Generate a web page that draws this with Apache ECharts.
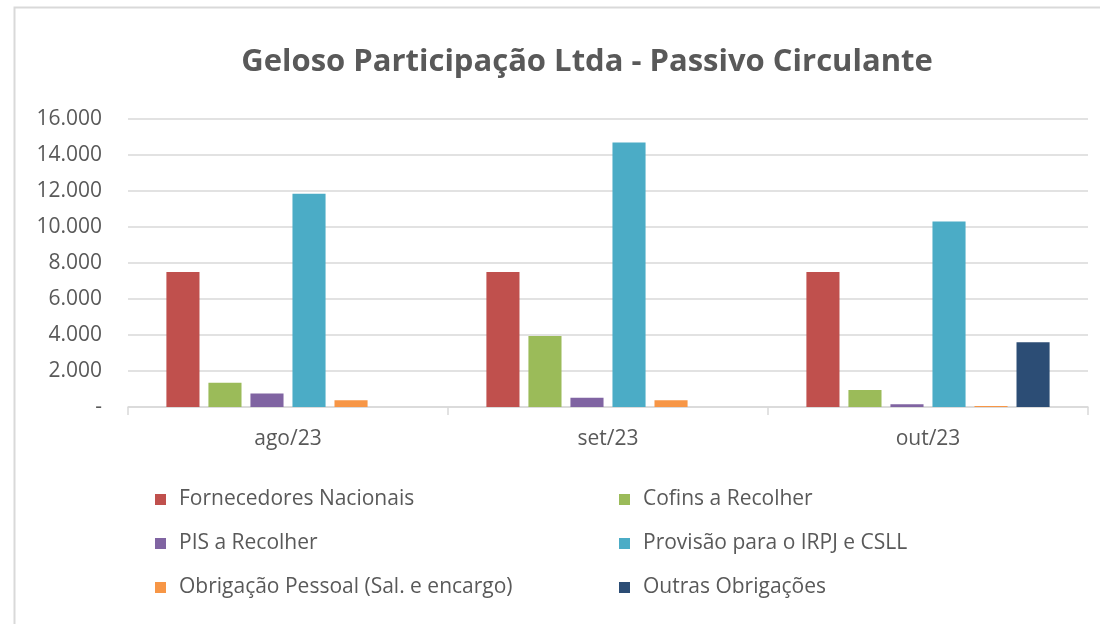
<!DOCTYPE html>
<html>
<head>
<meta charset="utf-8">
<script src="https://cdn.jsdelivr.net/npm/echarts@6/dist/echarts.min.js"></script>
<style>
html,body{margin:0;padding:0;background:#fff;}
#chart{width:1100px;height:624px;}
</style>
</head>
<body>
<div id="chart"></div>
<script>
const categories = ['ago/23', 'set/23', 'out/23'];
const seriesNames = [
  'Fornecedores Nacionais',
  'Cofins a Recolher',
  'PIS a Recolher',
  'Provisão para o IRPJ e CSLL',
  'Obrigação Pessoal (Sal. e encargo)',
  'Outras Obrigações'
];
const fornecedores = [7500, 7500, 7500];
const cofins = [1350, 3950, 950];
const pis = [750, 520, 150];
const provisao = [11850, 14700, 10300];
const obrigacaoPessoal = [380, 380, 60];
const outras = [0, 0, 3600];
const yTicks = [0, 2000, 4000, 6000, 8000, 10000, 12000, 14000, 16000];
const title = 'Geloso Participação Ltda - Passivo Circulante';

const values = [fornecedores, cofins, pis, provisao, obrigacaoPessoal, outras];
const colors = ['#C0504D', '#9BBB59', '#8064A2', '#4BACC6', '#F79646', '#2C4D75'];
const FONT = '"Open Sans", sans-serif';
const TXT = '#595959';

const legendPos = [
  {left: 155, top: 489}, {left: 619, top: 489},
  {left: 155, top: 533}, {left: 619, top: 533},
  {left: 155, top: 577}, {left: 619, top: 577}
];

const chart = echarts.init(document.getElementById('chart'), null, {renderer: 'canvas'});
chart.setOption({
  backgroundColor: '#fff',
  animation: false,
  title: {
    text: title,
    left: 582, top: 42, textAlign: 'center',
    textStyle: {fontFamily: FONT, fontWeight: 'bold', fontSize: 31, color: TXT}
  },
  graphic: [{
    type: 'rect', silent: true,
    shape: {x: 14.5, y: 7.5, width: 1200, height: 800},
    style: {fill: 'none', stroke: '#d9d9d9', lineWidth: 2}
  }],
  legend: seriesNames.map((n, i) => ({
    data: [n], left: legendPos[i].left, top: legendPos[i].top,
    padding: 0, itemWidth: 11, itemHeight: 11, icon: 'rect',
    selectedMode: false,
    textStyle: {fontFamily: FONT, fontSize: 21, color: TXT, lineHeight: 20, padding: [0, 0, 0, 8]}
  })),
  grid: {left: 128, right: 12, top: 119, bottom: 217, containLabel: false},
  xAxis: {
    type: 'category', data: categories,
    axisLine: {lineStyle: {color: '#d9d9d9', width: 1.5}},
    axisTick: {show: true, length: 8, lineStyle: {color: '#d9d9d9', width: 1.5}},
    axisLabel: {fontFamily: FONT, fontSize: 21, color: TXT, margin: 22}
  },
  yAxis: {
    type: 'value', min: yTicks[0], max: yTicks[yTicks.length - 1], interval: yTicks[1] - yTicks[0],
    axisLine: {show: false}, axisTick: {show: false},
    splitLine: {lineStyle: {color: '#d9d9d9', width: 1.5}},
    axisLabel: {
      fontFamily: FONT, fontSize: 21, color: TXT, margin: 26,
      formatter: v => v === 0 ? '-' : v.toLocaleString('de-DE')
    }
  },
  series: seriesNames.map((n, i) => ({
    name: n, type: 'bar', data: values[i],
    barCategoryGap: '24%', barGap: '27%',
    itemStyle: {color: colors[i]}
  }))
});
</script>
</body>
</html>
